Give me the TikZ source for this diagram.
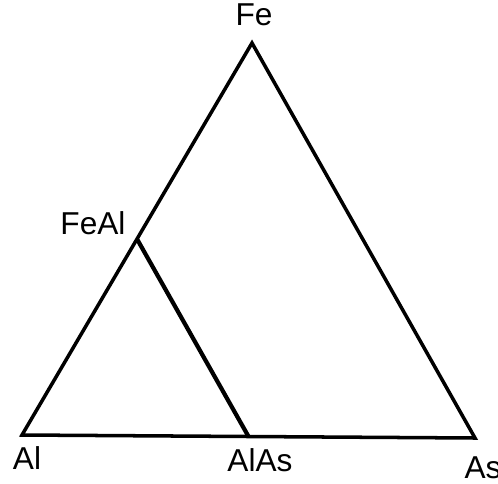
\documentclass[tikz,border=0pt]{standalone}
\usepackage{fontspec}
\setmainfont{Liberation Sans}
\usetikzlibrary{calc}

\begin{document}
\begin{tikzpicture}[font=\fontsize{18}{21}\selectfont,edge/.style={line width=2pt,line join=miter},lbl/.style={inner sep=0pt}]
\useasboundingbox (0,0) rectangle (9.96,9.66);
\coordinate (al) at (0.44,0.96);
\coordinate (as) at (9.5,0.90);
\coordinate (fe) at (5.04,8.8);
\coordinate (feal) at ($(al)!.5!(fe)$);
\coordinate (alas) at ($(al)!.5!(as)$);
\draw[edge] (al)--(fe)--(as)--cycle;
\draw[edge,line width=2.4pt] (feal)--(alas);
\node[lbl] (feL) at (5.08,9.36) {Fe};
\node[lbl] (fealL) at (1.86,5.2) {FeAl};
\node[lbl] (alL) at (0.54,0.5) {Al};
\node[lbl] (alasL) at (5.2,0.46) {AlAs};
\node[lbl] (asL) at (9.66,0.3) {As};
\end{tikzpicture}
\end{document}
